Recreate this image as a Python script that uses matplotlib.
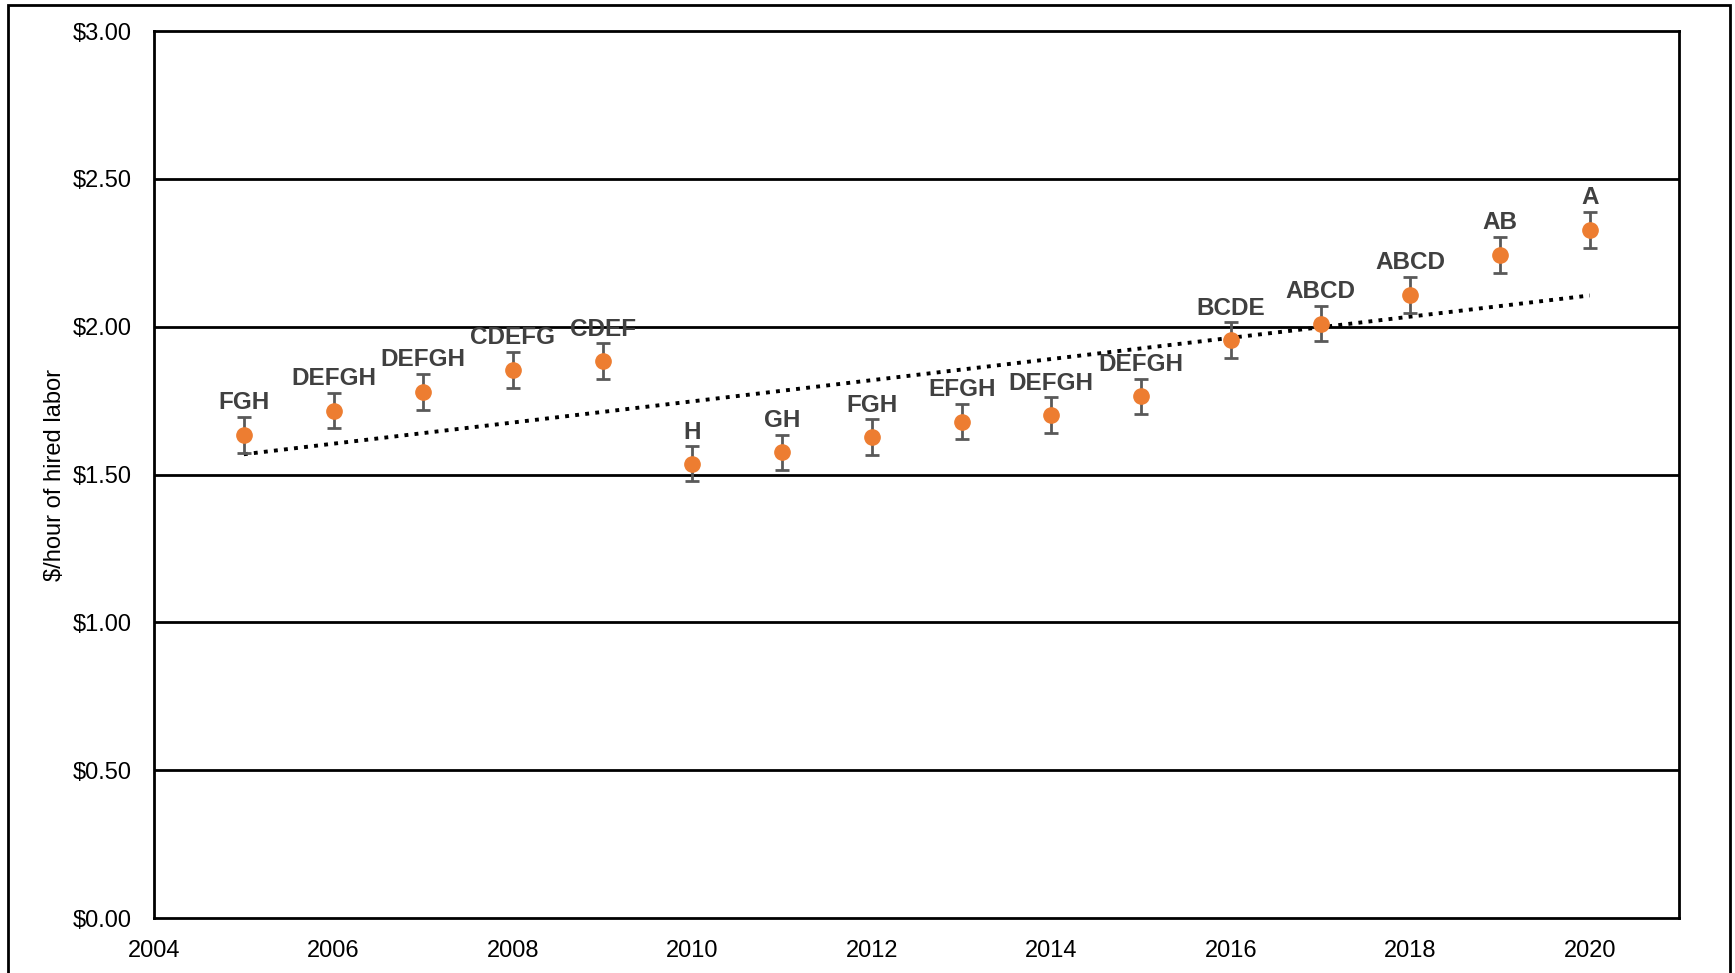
import numpy as np
import matplotlib.pyplot as plt
from matplotlib.patches import Rectangle
from matplotlib.ticker import FuncFormatter

plt.rcParams['font.family'] = ['Liberation Sans', 'DejaVu Sans']

years = [2005, 2006, 2007, 2008, 2009, 2010, 2011, 2012,
         2013, 2014, 2015, 2016, 2017, 2018, 2019, 2020]
wage = [1.634, 1.716, 1.780, 1.854, 1.884, 1.537, 1.575, 1.627,
        1.679, 1.701, 1.765, 1.955, 2.011, 2.108, 2.243, 2.328]
err = [0.06, 0.06, 0.06, 0.06, 0.06, 0.058, 0.06, 0.06,
       0.06, 0.06, 0.06, 0.06, 0.06, 0.06, 0.06, 0.06]
groups = ['FGH', 'DEFGH', 'DEFGH', 'CDEFG', 'CDEF', 'H', 'GH', 'FGH',
          'EFGH', 'DEFGH', 'DEFGH', 'BCDE', 'ABCD', 'ABCD', 'AB', 'A']

fig = plt.figure(figsize=(17.35, 9.73), dpi=100)
ax = fig.add_axes([0.0888, 0.0565, 0.968 - 0.0888, 0.968 - 0.0565])

# horizontal grid
for g in np.arange(0.5, 3.0, 0.5):
    ax.axhline(g, color='black', lw=2, zorder=1)

# linear trend
coef = np.polyfit(years, wage, 1)
tx = np.array([years[0], years[-1]])
ax.plot(tx, np.polyval(coef, tx), color='black', ls=(0, (1, 1.6)), lw=2.8, zorder=2)

ax.errorbar(years, wage, yerr=err, fmt='o', color='#ED7D31', ms=11,
            ecolor='#595959', elinewidth=2, capsize=5, capthick=2, zorder=3)

for x, y, e, s in zip(years, wage, err, groups):
    ax.annotate(s, (x, y + e), xytext=(0, 2), textcoords='offset points',
                ha='center', va='bottom', fontsize=17.5, fontweight='bold',
                color='#404040', zorder=4)

ax.set_xlim(2004, 2021)
ax.set_ylim(0, 3.0)
ax.set_xticks(range(2004, 2021, 2))
ax.set_yticks(np.arange(0, 3.01, 0.5))
ax.yaxis.set_major_formatter(FuncFormatter(lambda v, p: '${:.2f}'.format(v)))
ax.tick_params(axis='both', length=0, labelsize=17)
ax.tick_params(axis='x', pad=16)
ax.tick_params(axis='y', pad=16)
for sp in ax.spines.values():
    sp.set_linewidth(2)
ax.set_ylabel('$/hour of hired labor', fontsize=17, labelpad=5)

# outer frame around the figure
fig.patches.append(Rectangle((8 / 1735, -0.05), (1730 - 8) / 1735, 1.05 - 5 / 973,
                             transform=fig.transFigure, fill=False,
                             edgecolor='black', lw=2))

fig.savefig('out.png', dpi=100)
